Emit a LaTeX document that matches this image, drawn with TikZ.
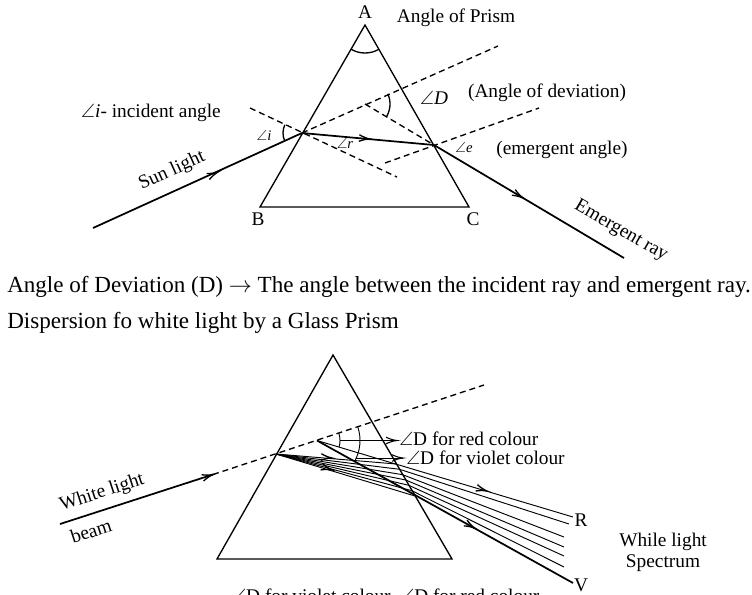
\documentclass[tikz,border=0pt]{standalone}
\usepackage{amsmath,amssymb}
\usepackage{fontspec}
\setmainfont{Liberation Serif}
\usepackage{tikz}

\tikzset{
  prism/.style={line width=1pt},
  ray/.style={line width=1.3pt},
  thinray/.style={line width=0.7pt},
  dashray/.style={line width=1pt, dash pattern=on 4.5pt off 3pt},
  lbl/.style={font=\fontsize{14.5}{17}\selectfont, inner sep=0pt},
  bodytxt/.style={font=\fontsize{17.3}{20}\selectfont, inner sep=0pt, anchor=base west},
  sml/.style={font=\fontsize{11}{13}\selectfont, inner sep=0pt}
}

\begin{document}
\begin{tikzpicture}[x=0.75pt,y=0.75pt,yscale=-1,xscale=1]
\useasboundingbox (0,0) rectangle (752,594);
\clip (0,0) rectangle (752,594);

% Points of the upper prism
\coordinate (A) at (365,25);
\coordinate (B) at (260,207);
\coordinate (C) at (469,207);
\coordinate (pI) at (302,133);
\coordinate (pE) at (434,145);
\coordinate (sunS) at (93,228);
\coordinate (emrE) at (624,258);
\coordinate (nI1) at (250,108);
\coordinate (nI2) at (397,177);
\coordinate (nE1) at (385,163);
\coordinate (nE2) at (539,108);
\coordinate (devX) at (365,104);
\coordinate (devE) at (498,46);

%Prism
\draw [prism] (A) -- (B) -- (C) -- cycle ;
%Arc at A
\draw [prism] (A) ++(60:28) arc (60:120:28) ;

%Normals
\draw [dashray] (nI1) -- (nI2) ;
\draw [dashray] (nE1) -- (nE2) ;
%Extended rays
\draw [dashray] (pI) -- (devE) ;
\draw [dashray] (devX) -- (pE) ;

%Sun light
\draw [ray] (sunS) -- (pI) ;
\draw [shift={(218,172)}, rotate = 155.56] [line width=1pt]    (10.93,-3.29) .. controls (6.95,-1.4) and (3.31,-0.3) .. (0,0) .. controls (3.31,0.3) and (6.95,1.4) .. (10.93,3.29)   ;
%Refracted ray
\draw [ray] (pI) -- (pE) ;
\draw [shift={(370,139)}, rotate = 185.19] [line width=1pt]    (10.93,-3.29) .. controls (6.95,-1.4) and (3.31,-0.3) .. (0,0) .. controls (3.31,0.3) and (6.95,1.4) .. (10.93,3.29)   ;
%Emergent ray
\draw [ray] (pE) -- (emrE) ;
\draw [shift={(523,198)}, rotate = 210.74] [line width=1pt]    (10.93,-3.29) .. controls (6.95,-1.4) and (3.31,-0.3) .. (0,0) .. controls (3.31,0.3) and (6.95,1.4) .. (10.93,3.29)   ;

%Angle arcs
\draw [prism] (pI) ++(155.6:19) arc (155.6:205.7:19) ;
\draw [prism] (devX) ++(-24:25) arc (-24:31:25) ;

% Text Node
\draw (365,12) node (lA) [lbl] {A};
% Text Node
\draw (258,219) node (lB) [lbl] {B};
% Text Node
\draw (473,219) node (lC) [lbl] {C};
% Text Node
\draw (456,18) node (lPrism) [lbl] {Angle of Prism};
% Text Node
\draw (151,113) node (lInc) [lbl] {$\angle$\textit{i}- incident angle};
% Text Node
\draw (264,135) node (lI) [sml] {$\angle$\textit{i}};
% Text Node
\draw (345,143) node (lR) [sml] {$\angle$\textit{r}};
% Text Node
\draw (464,147) node (lE) [sml] {$\angle$\textit{e}};
% Text Node
\draw (434,98) node (lD) [lbl] {$\angle$\textit{D}};
% Text Node
\draw (547,93) node (lDev) [lbl] {(Angle of deviation)};
% Text Node
\draw (562,150) node (lEmr) [lbl] {(emergent angle)};
% Text Node
\draw (172,171) node (lSun) [lbl, rotate=24.4] {Sun light};
% Text Node
\draw (621,231) node (lEray) [lbl, rotate=-30] {Emergent ray};

% Text Node
\draw (7,292) node (lLine1) [bodytxt] {Angle of Deviation (D) $\rightarrow$ The angle between the incident ray and emergent ray.};
% Text Node
\draw (7,328) node (lLine2) [bodytxt] {Dispersion fo white light by a Glass Prism};

% Points of the lower prism
\coordinate (tA) at (333,355);
\coordinate (tB) at (217,559);
\coordinate (tC) at (452,559);
\coordinate (wS) at (60,524);
\coordinate (wP) at (276,454);
\coordinate (wO) at (317,440.5);
\coordinate (wE) at (484,385);
\coordinate (ex1) at (396.5,464);
\coordinate (ex2) at (399.6,469.3);
\coordinate (ex3) at (402.7,474.7);
\coordinate (ex4) at (405.8,480);
\coordinate (ex5) at (408.8,485.3);
\coordinate (ex6) at (411.9,490.7);
\coordinate (ex7) at (415,496);
\coordinate (spR) at (573,517);
\coordinate (sp2) at (569,524);
\coordinate (sp3) at (564,537);
\coordinate (sp4) at (564,547);
\coordinate (sp5) at (564,556);
\coordinate (sp6) at (564,567);
\coordinate (spV) at (573,583);

%Prism
\draw [prism] (tA) -- (tB) -- (tC) -- cycle ;

%White light
\draw [ray] (wS) -- (213,474.5) ;
\draw [dashray] (213,474.5) -- (wE) ;
\draw [shift={(213,474.5)}, rotate = 162.04] [line width=1pt]    (10.93,-3.29) .. controls (6.95,-1.4) and (3.31,-0.3) .. (0,0) .. controls (3.31,0.3) and (6.95,1.4) .. (10.93,3.29)   ;

%Rays inside the prism
\foreach \k in {1,...,7}
  \draw [thinray] (wP) -- (ex\k) ;
\draw [shift={(332,458)}, rotate = 185.3] [line width=1pt]    (10.93,-3.29) .. controls (6.95,-1.4) and (3.31,-0.3) .. (0,0) .. controls (3.31,0.3) and (6.95,1.4) .. (10.93,3.29)   ;
\draw [shift={(332,470)}, rotate = 197.3] [line width=1pt]    (10.93,-3.29) .. controls (6.95,-1.4) and (3.31,-0.3) .. (0,0) .. controls (3.31,0.3) and (6.95,1.4) .. (10.93,3.29)   ;

%Spectrum
\draw [thinray] (wO) -- (spR) ;
\draw [thinray] (ex2) -- (sp2) ;
\draw [thinray] (ex3) -- (sp3) ;
\draw [thinray] (ex4) -- (sp4) ;
\draw [thinray] (ex5) -- (sp5) ;
\draw [thinray] (ex6) -- (sp6) ;
\draw [ray] (wO) -- (spV) ;
\draw [shift={(487,491)}, rotate = 196.74] [line width=1pt]    (10.93,-3.29) .. controls (6.95,-1.4) and (3.31,-0.3) .. (0,0) .. controls (3.31,0.3) and (6.95,1.4) .. (10.93,3.29)   ;
\draw [shift={(475,528.3)}, rotate = 209.19] [line width=1pt]    (10.93,-3.29) .. controls (6.95,-1.4) and (3.31,-0.3) .. (0,0) .. controls (3.31,0.3) and (6.95,1.4) .. (10.93,3.29)   ;

%Deviation arcs
\draw [thinray] (wO) ++(-18.2:23) arc (-18.2:16.7:23) ;
\draw [thinray] (wO) ++(-18.2:43) arc (-18.2:29.2:43) ;
\coordinate (dRed) at (340,440.5);
\coordinate (dRedT) at (397,440.5);
\coordinate (dVio) at (356,458);
\coordinate (dVioT) at (403,458);
\draw [thinray] (dRed) -- (dRedT) ;
\draw [thinray] (dVio) -- (dVioT) ;
\draw [shift={(dRedT)}, rotate = 180] [line width=0.8pt]    (10.93,-3.29) .. controls (6.95,-1.4) and (3.31,-0.3) .. (0,0) .. controls (3.31,0.3) and (6.95,1.4) .. (10.93,3.29)   ;
\draw [shift={(dVioT)}, rotate = 180] [line width=0.8pt]    (10.93,-3.29) .. controls (6.95,-1.4) and (3.31,-0.3) .. (0,0) .. controls (3.31,0.3) and (6.95,1.4) .. (10.93,3.29)   ;

% Text Node
\draw (102,493) node (lWhite) [lbl, rotate=18] {White light};
% Text Node
\draw (91,531) node (lBeam) [lbl, rotate=18] {beam};
% Text Node
\draw (399,439) node (lRed) [lbl, anchor=west] {$\angle$D for red colour};
% Text Node
\draw (406,458) node (lVio) [lbl, anchor=west] {$\angle$D for violet colour};
% Text Node
\draw (581,520) node (lR2) [lbl] {R};
% Text Node
\draw (581,585) node (lV2) [lbl] {V};
% Text Node
\draw (663,542) node (lSpec1) [lbl] {While light};
% Text Node
\draw (663,563) node (lSpec2) [lbl] {Spectrum};
% Text Node
\draw (232,602) node (lBottom) [lbl, anchor=base west] {$\angle$D for violet colour\enspace $\angle$D for red colour};

\end{tikzpicture}
\end{document}
